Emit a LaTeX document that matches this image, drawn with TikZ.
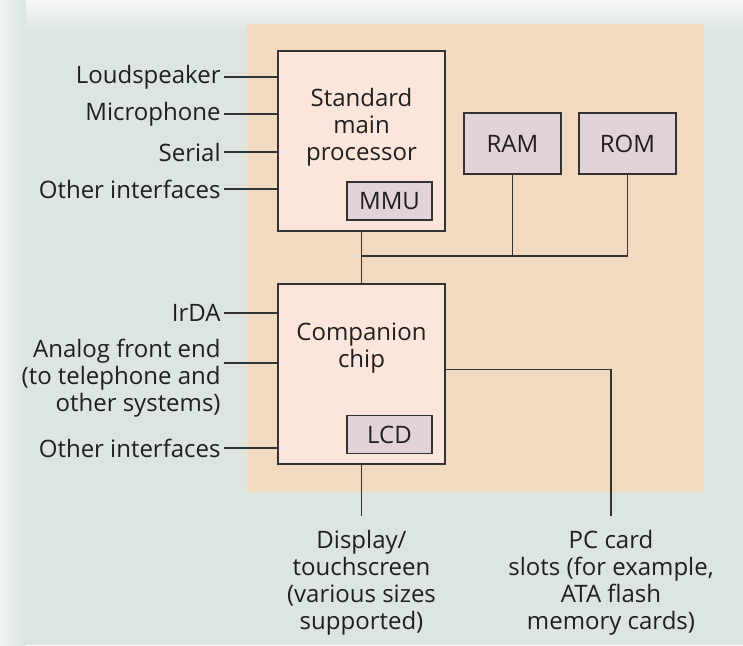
\documentclass[tikz,border=0pt]{standalone}
\usepackage{fontspec}
\setmainfont{Open Sans}
\usetikzlibrary{positioning,calc}
\definecolor{pdabg}{HTML}{DCE5E0}
\definecolor{pdapanel}{HTML}{F2DAC1}
\definecolor{pdachip}{HTML}{FCE6DC}
\definecolor{pdaunit}{HTML}{E2D2D9}
\definecolor{pdaline}{HTML}{333333}
\tikzset{
  txt/.style={font=\fontsize{12}{13.5}\selectfont, text=black!88, align=center},
  chipbox/.style={draw=pdaline, line width=0.9pt, fill=pdachip,
    minimum width=83.5pt, minimum height=90pt},
  unitbox/.style={txt, draw=pdaline, line width=0.9pt, fill=pdaunit,
    minimum height=19pt, inner sep=0pt},
  port/.style={txt, align=right, anchor=east, inner xsep=1.5pt},
  wire/.style={draw=pdaline, line width=0.8pt},
}

\begin{document}
\begin{tikzpicture}[x=0.5pt,y=-0.5pt]
\useasboundingbox (0,0) rectangle (743,645);
\fill[pdabg] (0,0) rectangle (743,645);
\shade[top color=white!75!pdabg, bottom color=pdabg] (0,0) rectangle (743,32);
\shade[left color=white!55!pdabg, right color=pdabg] (0,0) rectangle (26,645);
\fill[pdapanel] (247,24) rectangle (704,492);

\node[chipbox] (cpu) at (361.5,141) {};
\node[txt, below=15.5pt of cpu.north] (cputxt) {Standard\\main\\processor};
\node[unitbox, minimum width=42.5pt] (mmu) at (389.5,201) {MMU};

\node[chipbox] (comp) at (361.5,374) {};
\node[txt, below=16.5pt of comp.north] (comptxt) {Companion\\chip};
\node[unitbox, minimum width=42.5pt] (lcd) at (389.5,434.5) {LCD};

\node[unitbox, minimum width=48.5pt, minimum height=30.5pt] (ram) at (512.5,143.5) {RAM};
\node[unitbox, minimum width=48.5pt, minimum height=30.5pt] (rom) at (627.5,143.5) {ROM};

\node[port] (spk) at (224,77) {Loudspeaker};
\node[port] (mic) at (224,114) {Microphone};
\node[port] (ser) at (224,152) {Serial};
\node[port] (oth1) at (224,189) {Other interfaces};
\node[port] (irda) at (224,313) {IrDA};
\node[port] (afe) at (224,378) {Analog front end\\(to telephone and\\other systems)};
\node[port] (oth2) at (224,448) {Other interfaces};

\node[txt, anchor=north, inner ysep=7pt] (disp) at (361.5,516)
  {Display/\\touchscreen\\(various sizes\\supported)};
\node[txt, anchor=north, inner ysep=7pt] (pccard) at (611,516)
  {PC card\\slots (for example,\\ATA flash\\memory cards)};

\foreach \p in {spk,mic,ser,oth1}
  \draw[wire] (\p.east) -- (\p.east -| cpu.west);
\foreach \p in {irda,oth2}
  \draw[wire] (\p.east) -- (\p.east -| comp.west);
\coordinate (afeport) at ($(afe.east)+(0,-15)$);
\draw[wire] (afeport) -- (afeport -| comp.west);

\coordinate (bus) at (361.5,256);
\draw[wire] (cpu.south) -- (comp.north);
\draw[wire] (bus) -| (rom.south);
\draw[wire] (ram.south) -- (ram.south |- bus);

\draw[wire] (comp.south) -- (disp.north);
\draw[wire] ([yshift=2.25pt]comp.east) -| (pccard.north);
\end{tikzpicture}
\end{document}
